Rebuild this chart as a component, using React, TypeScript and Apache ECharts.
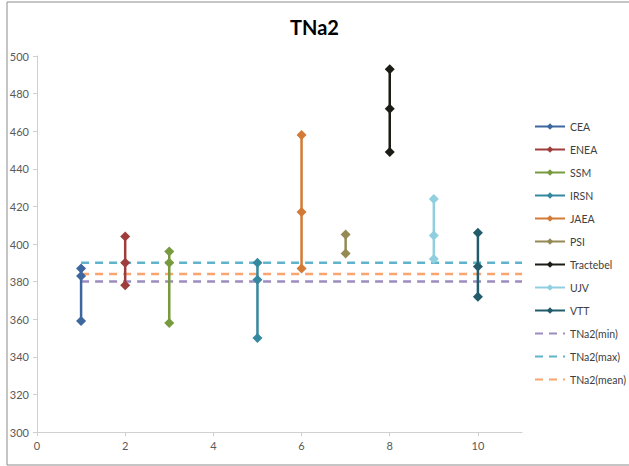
import React, { useEffect, useRef } from "react";
import * as echarts from "echarts";

const labNames = ["CEA", "ENEA", "SSM", "IRSN", "JAEA", "PSI", "Tractebel", "UJV", "VTT"];
const labX = [1, 2, 3, 5, 6, 7, 8, 9, 10];
const labValues: number[][] = [
  [387, 383, 359],
  [404, 390, 378],
  [396, 390, 358],
  [390, 381, 350],
  [458, 417, 387],
  [405, 395],
  [493, 472, 449],
  [424, 404.5, 392],
  [406, 388, 372],
];
const labColors = ["#3d679e", "#9e3d3b", "#789a3e", "#34889f", "#d27a36", "#958a55", "#1c1c16", "#90cfe0", "#225b6a"];

const refNames = ["TNa2(min)", "TNa2(max)", "TNa2(mean)"];
const refValues = [380, 390, 384];
const refXRange = [1, 11];
const refColors = ["#9d8cc0", "#5fb4cc", "#f9a570"];

const xTicks = [0, 2, 4, 6, 8, 10];

export default function App() {
  const ref = useRef<HTMLDivElement>(null);
  useEffect(() => {
    document.body.style.margin = "0";
    const chart = echarts.init(ref.current!, null, { renderer: "svg" });
    const font = "Lato, 'Open Sans', sans-serif";
    const labSeries = labNames.map((name, i) => ({
      name,
      type: "line",
      data: labValues[i].map((v) => [labX[i], v]),
      symbol: "diamond",
      symbolSize: 10,
      z: 3,
      lineStyle: { color: labColors[i], width: 2.5 },
      itemStyle: { color: labColors[i] },
    }));
    const refSeries = refNames.map((name, i) => ({
      name,
      type: "line",
      data: refXRange.map((x) => [x, refValues[i]]),
      symbol: "none",
      z: 2,
      lineStyle: { color: refColors[i], width: 2.5, type: [8, 6] },
      itemStyle: { color: refColors[i] },
    }));
    chart.setOption({
      animation: false,
      backgroundColor: "#ffffff",
      title: {
        text: "TNa2",
        left: "center",
        top: 12,
        textStyle: { fontSize: 20, fontWeight: "bold", color: "#000", fontFamily: font },
      },
      graphic: [
        {
          type: "rect",
          shape: { x: 7, y: 2, width: 700, height: 463 },
          style: { fill: "none", stroke: "#8c8c8c", lineWidth: 1 },
          silent: true,
        },
      ],
      grid: { left: 37, right: 107, top: 56, bottom: 34 },
      legend: {
        orient: "vertical",
        left: 529,
        top: 116,
        itemWidth: 30,
        itemHeight: 8,
        itemGap: 12,
        textStyle: { fontSize: 10.5, color: "#404040", fontFamily: font },
        data: [
          ...labNames,
          ...refNames.map((name) => ({ name, itemStyle: { opacity: 0 } })),
        ],
      },
      xAxis: {
        type: "value",
        min: 0,
        max: 11,
        interval: 2,
        splitLine: { show: false },
        axisLine: { lineStyle: { color: "#d0d0d0", width: 1 } },
        axisTick: { show: true, length: 4, customValues: xTicks, lineStyle: { color: "#d0d0d0" } },
        axisLabel: { customValues: xTicks, color: "#595959", fontSize: 11, fontFamily: font, margin: 8 },
      },
      yAxis: {
        type: "value",
        min: 300,
        max: 500,
        interval: 20,
        splitLine: { show: false },
        axisLine: { show: true, lineStyle: { color: "#d0d0d0", width: 1 } },
        axisTick: { show: true, length: 4, lineStyle: { color: "#d0d0d0" } },
        axisLabel: { color: "#595959", fontSize: 11, fontFamily: font, margin: 8 },
      },
      series: [...labSeries, ...refSeries],
    });
    return () => chart.dispose();
  }, []);
  return <div ref={ref} style={{ width: 629, height: 466 }} />;
}
